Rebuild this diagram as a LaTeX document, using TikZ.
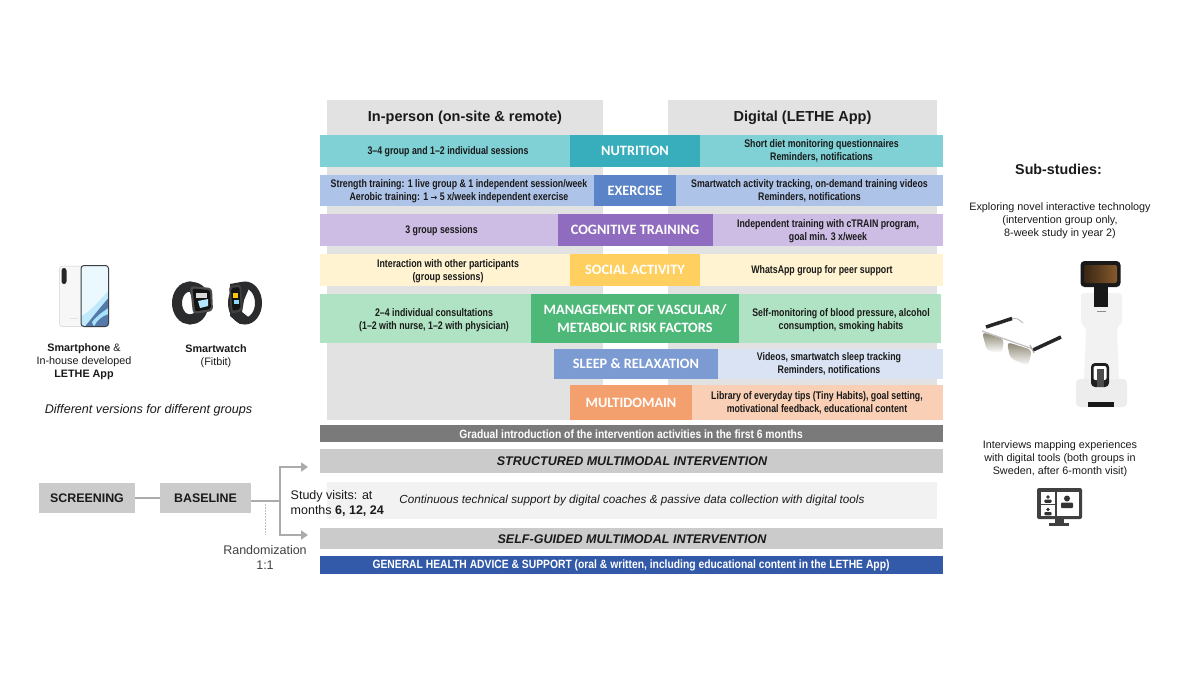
\documentclass[tikz,border=0pt]{standalone}
\usepackage{fontspec}
\setmainfont{Liberation Sans}
\newfontfamily\cond[FakeStretch=0.8]{Liberation Sans}
\newfontfamily\condw[FakeStretch=0.86]{Liberation Sans}
\newfontfamily\calib{Carlito}
\usetikzlibrary{arrows.meta}
\definecolor{hdr}{HTML}{E2E2E2}
\definecolor{nutL}{HTML}{7FD1D5}\definecolor{nutD}{HTML}{38AEBC}
\definecolor{exeL}{HTML}{AEC3E8}\definecolor{exeD}{HTML}{5B84C8}
\definecolor{cogL}{HTML}{CDBDE4}\definecolor{cogD}{HTML}{8F6CBF}
\definecolor{socL}{HTML}{FFF3D1}\definecolor{socD}{HTML}{FFCF5F}
\definecolor{manL}{HTML}{B0E3C3}\definecolor{manD}{HTML}{4EB878}
\definecolor{sleL}{HTML}{DAE3F3}\definecolor{sleD}{HTML}{7C9BD3}
\definecolor{mulL}{HTML}{F9D0B6}\definecolor{mulD}{HTML}{F4A06E}
\definecolor{bargray}{HTML}{CBCBCB}
\definecolor{gradgray}{HTML}{7A7A7A}
\definecolor{genblue}{HTML}{335AA8}
\definecolor{linegray}{HTML}{ABABAB}
\definecolor{ink}{HTML}{1A1A1A}
\definecolor{mid}{HTML}{404040}
\definecolor{lens}{HTML}{8A8570}
\definecolor{band}{HTML}{2A2C2E}
\tikzset{
  x=1pt,y=-1pt,
  bx/.style={inner sep=0pt,outer sep=0pt},
  btxt/.style={font=\cond\bfseries\fontsize{11}{13}\selectfont,text=ink,align=center,inner sep=0pt,yshift=-0.8pt},
  dom/.style={font=\calib\bfseries\fontsize{14.3}{18}\selectfont,text=white,align=center,inner sep=0pt},
  hd/.style={font=\bfseries\fontsize{14.5}{17}\selectfont,text=ink,inner sep=0pt,yshift=-2pt},
  bart/.style={font=\bfseries\itshape\fontsize{12.55}{14}\selectfont,text=ink,inner sep=0pt},
  bwhite/.style={font=\condw\bfseries\fontsize{12}{14}\selectfont,text=white,inner sep=0pt},
  plain/.style={font=\fontsize{10.8}{13}\selectfont,text=ink,align=center,inner sep=0pt,yshift=-2pt},
  flow/.style={draw=linegray,line width=2.6pt},
  flowarr/.style={flow,-{Triangle[length=7pt,width=9pt]}},
  stepbx/.style={fill=bargray,minimum height=30pt,bx,font=\bfseries\fontsize{12.4}{14}\selectfont,text=ink},
}
\begin{document}
\begin{tikzpicture}
\useasboundingbox (0,0) rectangle (1200,675);
\fill[white] (0,0) rectangle (1200,675);
% headers
\fill[hdr] (326.5,100) rectangle (603,420);
\fill[hdr] (668,100) rectangle (937,420);
\node[hd] (h1) at (465,116) {In-person (on-site \& remote)};
\node[hd] (h2) at (802.5,116) {Digital (LETHE App)};
% nutrition
\fill[nutL] (320,134.5) rectangle (943,166.5);
\fill[nutD] (570,134.5) rectangle (700,166.5);
\node[btxt] (n1) at (448,151) {3–4 group and 1–2 individual sessions};
\node[dom] (n2) at (635,151) {NUTRITION};
\node[btxt] (n3) at (821.5,150.5) {Short diet monitoring questionnaires\\Reminders, notifications};
% exercise
\fill[exeL] (320,174.5) rectangle (943,206);
\fill[exeD] (594,174.5) rectangle (676,206);
\node[btxt] (e1) at (459,190.5) {Strength training: 1 live group \& 1 independent session/week\\Aerobic training: 1 {\fontspec{DejaVu Sans}\fontsize{8}{13}\selectfont →} 5 x/week independent exercise};
\node[dom] (e2) at (635,191) {EXERCISE};
\node[btxt] (e3) at (809.5,190.5) {Smartwatch activity tracking, on-demand training videos\\Reminders, notifications};
% cognitive
\fill[cogL] (320,214) rectangle (943,246);
\fill[cogD] (558,214) rectangle (712.5,246);
\node[btxt] (c1) at (441.5,230) {3 group sessions};
\node[dom] (c2) at (635,230) {COGNITIVE TRAINING};
\node[btxt] (c3) at (828,230) {Independent training with cTRAIN program,\\goal min. 3 x/week};
% social
\fill[socL] (320,254) rectangle (943,286);
\fill[socD] (570,254) rectangle (700,286);
\node[btxt] (s1) at (448,270) {Interaction with other participants\\(group sessions)};
\node[dom] (s2) at (635,270) {SOCIAL ACTIVITY};
\node[btxt] (s3) at (822,270) {WhatsApp group for peer support};
% management
\fill[manL] (320,294) rectangle (941,343);
\fill[manD] (531,294) rectangle (739,343);
\node[btxt] (m1) at (434,319) {2–4 individual consultations\\(1–2 with nurse, 1–2 with physician)};
\node[dom] (m2) at (635,319) {MANAGEMENT OF VASCULAR/\\METABOLIC RISK FACTORS};
\node[btxt] (m3) at (841,319) {Self-monitoring of blood pressure, alcohol\\consumption, smoking habits};
% sleep
\fill[sleL] (718,348.5) rectangle (943,378.5);
\fill[sleD] (553.5,348.5) rectangle (718,378.5);
\node[dom] (p2) at (636,364) {SLEEP \& RELAXATION};
\node[btxt] (p3) at (829,363.5) {Videos, smartwatch sleep tracking\\Reminders, notifications};
% multidomain
\fill[mulL] (692,384.5) rectangle (943,420);
\fill[mulD] (570,384.5) rectangle (692,420);
\node[dom] (d2) at (631,403) {MULTIDOMAIN};
\node[btxt] (d3) at (817,402.5) {Library of everyday tips (Tiny Habits), goal setting,\\motivational feedback, educational content};
% bars
\fill[gradgray] (320,425) rectangle (943,442);
\node[bwhite] (g) at (631,434.5) {Gradual introduction of the intervention activities in the first 6 months};
\fill[bargray] (320,449) rectangle (943,473);
\node[bart] (st) at (632,461.5) {STRUCTURED MULTIMODAL INTERVENTION};
\fill[black!5] (327,482) rectangle (937,519);
\node[font=\itshape\fontsize{11.7}{13}\selectfont,text=ink,inner sep=0pt] (co) at (632,500) {Continuous technical support by digital coaches \& passive data collection with digital tools};
\fill[bargray] (320,528) rectangle (943,549);
\node[bart] (se) at (632,539) {SELF-GUIDED MULTIMODAL INTERVENTION};
\fill[genblue] (320,556) rectangle (943,573.5);
\node[bwhite] (ge) at (631,565) {GENERAL HEALTH ADVICE \& SUPPORT (oral \& written, including educational content in the LETHE App)};
% flow
\node[stepbx,minimum width=96pt] (scr) at (87,498) {SCREENING};
\node[stepbx,minimum width=91pt] (bas) at (205.5,498) {BASELINE};
\draw[flow] (scr.east) -- (bas.west);
\coordinate (jn) at (280,501);
\coordinate (upE) at (308,467);
\coordinate (loE) at (308,535);
\coordinate (dashT) at (265,504);
\coordinate (dashB) at (265,535);
\draw[flow] (bas.east |- jn) -- (jn);
\draw[flowarr] (jn) -- (jn |- upE) -- (upE);
\draw[flowarr] (jn) -- (jn |- loE) -- (loE);
\draw[draw=black!25,line width=1pt,dash pattern=on 2pt off 1pt] (dashT) -- (dashB);
\node[font=\fontsize{12.5}{15}\selectfont,text=mid,align=center,inner sep=0pt] (ra) at (265,557.5) {Randomization\\1:1};
\node[font=\fontsize{12.5}{15}\selectfont,text=ink,align=left,anchor=west,inner sep=0pt] (sv) at (290.5,503) {Study visits: at\\months \textbf{6, 12, 24}};
% phone
\fill[black!3,draw=black!18,line width=.5pt,rounded corners=3pt] (59.5,266) rectangle (84,326.5);
\fill[black!85,rounded corners=2.5pt] (61.5,268) rectangle (66.5,284);
\fill[black!10] (70,318) rectangle (78,319);
\begin{scope}
 \path[rounded corners=3pt,clip] (81,265.5) rectangle (108.5,326.5);
 \fill[cyan!8] (81,265.5) rectangle (108.5,326.5);
 \fill[cyan!25] (81,316) .. controls (90,312) and (98,302) .. (108.5,291) -- (108.5,326.5) -- (81,326.5) -- cycle;
 \fill[cyan!55!blue!70!black!85] (85,326.5) .. controls (92,318) and (98,310) .. (108.5,298) -- (108.5,326.5) -- cycle;
 \fill[cyan!35] (92,322) .. controls (97,316) and (102,312) .. (108.5,308) -- (108.5,314) .. controls (102,316) and (97,320) .. (94,326.5) -- cycle;
\end{scope}
\draw[black!70!cyan!50!black,line width=1pt,rounded corners=3pt] (81,265.5) rectangle (108.5,326.5);
\node[plain] (l1) at (84,360) {\textbf{Smartphone} \&\\In-house developed\\\textbf{LETHE App}};
% watch 1
\draw[band,line width=10pt] (190,303) ellipse (13 and 16.5);
\fill[band] (186,282) .. controls (196,281) and (204,284) .. (207,292) -- (207,312) .. controls (204,320) and (198,324) .. (192,324) -- (196,308) -- cycle;
\fill[white] (190,298) .. controls (184,304) and (184,310) .. (186,313) .. controls (190,312) and (194,308) .. (197,302) -- cycle;
\fill[black!70,rounded corners=3.5pt] (190,286) -- (212,288) -- (213,311) -- (193,314) -- cycle;
\fill[black!92,rounded corners=2pt] (192.5,288.5) -- (210,290) -- (211,309) -- (195,311.5) -- cycle;
\fill[black!15] (196,293) rectangle (207,298);
\fill[cyan!30!white] (198,301) -- (208,299) -- (208,306) -- (200,308) -- cycle;
% watch 2
\draw[band,line width=7pt] (245,303) ellipse (13.5 and 18);
\fill[band] (230,284) -- (241,282) -- (250,286) -- (244,300) -- (242,312) -- (252,320) -- (240,324) -- (230,316) -- cycle;
\fill[black!75,rounded corners=3pt] (229,286) -- (241,284.5) -- (242.5,311) -- (231,314) -- cycle;
\fill[black!92,rounded corners=2pt] (231,288) -- (239.5,287) -- (240.5,309) -- (232.5,311) -- cycle;
\fill[yellow!60!orange] (233,293) rectangle (238,298);
\fill[cyan!45] (233.5,300) rectangle (238.5,304);
\node[plain] (l2) at (216,354.5) {\textbf{Smartwatch}\\(Fitbit)};
\node[font=\itshape\fontsize{12.6}{13}\selectfont,text=ink,inner sep=0pt] (l3) at (148.5,410) {Different versions for different groups};
% right
\node[font=\bfseries\fontsize{14.3}{16}\selectfont,text=ink,inner sep=0pt] (r0) at (1058.5,169.5) {Sub-studies:};
\node[plain] (r1) at (1060,219) {Exploring novel interactive technology\\(intervention group only,\\8-week study in year 2)};
\node[plain] (r2) at (1060,457) {Interviews mapping experiences\\with digital tools (both groups in\\Sweden, after 6-month visit)};
% glasses
\draw[black!30,line width=.8pt] (1011,318) -- (1018,319) -- (1023,323);
\draw[black!85,line width=3.5pt] (986,327) -- (1012,318.5);
\draw[black!85,line width=3.5pt] (1033,350) -- (1061,337);
\shade[top color=lens,bottom color=white,rounded corners=4pt] (982,332) -- (1004,339) -- (1002,353) -- (987,351) -- cycle;
\shade[top color=lens,bottom color=white,rounded corners=4pt] (1007,342) -- (1032,350) -- (1028,366) -- (1010,358) -- cycle;
\draw[black!25,line width=1.2pt] (982,331) -- (1033,349);
\draw[black!35,line width=1pt] (1030,345) -- (1034,353);
% robot
\fill[black!5] (1081,296) .. controls (1081,293) and (1083,293) .. (1092,293) -- (1112,293) .. controls (1121,293) and (1122,294) .. (1122,297) -- (1122,322) .. controls (1118,327) and (1117,327) .. (1117,330) -- (1119,380) -- (1084,380) -- (1086,330) .. controls (1086,327) and (1081,325) .. (1081,320) -- cycle;
\fill[black!7,rounded corners=4pt] (1076,379) rectangle (1127,407);
\fill[black!88,rounded corners=4pt] (1091,363) rectangle (1109,387);
\fill[white,rounded corners=2pt] (1093.5,366) rectangle (1106.5,380);
\fill[black!70] (1097,369) rectangle (1104,387);
\fill[black!90] (1088,402) rectangle (1114,407);
\fill[black!90] (1094,287) rectangle (1108,307);
\fill[black!90,rounded corners=4pt] (1080.5,261) rectangle (1120.5,287);
\shade[left color=black!70!brown,right color=brown!70!black,rounded corners=2pt] (1084,265) rectangle (1117,283);
\fill[black!45] (1097,311) rectangle (1106,312);
% monitor
\fill[black!75,rounded corners=2pt] (1037,488) rectangle (1082,519);
\fill[black!75] (1055,519) rectangle (1064,523);
\fill[black!75] (1049,523) rectangle (1069,526);
\fill[white] (1041,491.5) rectangle (1055,504);
\fill[white] (1041,505) rectangle (1055,516);
\fill[white] (1057,491.5) rectangle (1079,516);
\foreach \cx/\cy/\r in {1048/497/1.8,1048/509.5/1.8,1067/498.5/3} {
  \fill[black!80] (\cx,\cy) circle (\r);
  \fill[black!80,rounded corners=1pt] (\cx-2*\r,\cy+1.4*\r) rectangle (\cx+2*\r,\cy+3.2*\r);
}
\end{tikzpicture}
\end{document}
